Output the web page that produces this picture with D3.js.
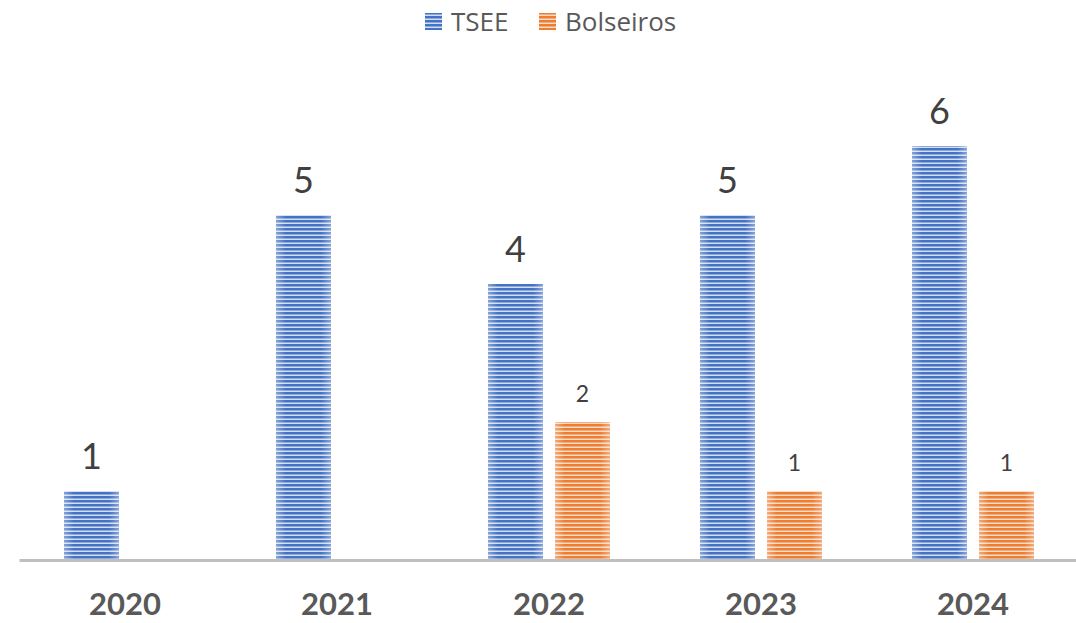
<!DOCTYPE html>
<html lang="pt">
<head>
<meta charset="UTF-8">
<title>TSEE e Bolseiros</title>
<script src="https://d3js.org/d3.v7.min.js"></script>
<style>
  body { margin: 0; background: #fff; }
</style>
</head>
<body>
<script>
// data
var years = ["2020", "2021", "2022", "2023", "2024"];
var seriesNames = ["TSEE", "Bolseiros"];
var tsee = [1, 5, 4, 5, 6];
var bolseiros = [null, null, 2, 1, 1];

var w = 1076, h = 623;
var baseY = 560;

var svg = d3.select("body").append("svg")
    .attr("width", w)
    .attr("height", h)
    .style("font-family", "Lato, 'Open Sans', sans-serif");

var defs = svg.append("defs");
var colors = { TSEE: ["#4472C4", "#D3DEF2"], Bolseiros: ["#ED7D31", "#FADBC6"] };

seriesNames.forEach(function (s) {
    var p = defs.append("pattern")
        .attr("id", "pat-" + s)
        .attr("patternUnits", "userSpaceOnUse")
        .attr("width", 8).attr("height", 4);
    p.append("rect").attr("width", 8).attr("height", 4).attr("fill", colors[s][1]);
    p.append("rect").attr("width", 8).attr("height", 2.5).attr("fill", colors[s][0]);
});

// soft lighter edges on the bars
var grad = defs.append("linearGradient").attr("id", "edge")
    .attr("x1", "0").attr("x2", "1").attr("y1", "0").attr("y2", "0");
grad.append("stop").attr("offset", "0").attr("stop-color", "#fff").attr("stop-opacity", 0.35);
grad.append("stop").attr("offset", "0.18").attr("stop-color", "#fff").attr("stop-opacity", 0);
grad.append("stop").attr("offset", "0.82").attr("stop-color", "#fff").attr("stop-opacity", 0);
grad.append("stop").attr("offset", "1").attr("stop-color", "#fff").attr("stop-opacity", 0.35);

var x = d3.scaleBand()
    .domain(years)
    .range([19, 1079]);

var x1 = d3.scaleBand()
    .domain(seriesNames)
    .range([0, 122])
    .paddingInner(0.18);

var y = d3.scaleLinear()
    .domain([0, 6])
    .range([baseY, baseY - 414]);

var rows = [];
years.forEach(function (yr, i) {
    rows.push({ year: yr, s: "TSEE", v: tsee[i] });
    if (bolseiros[i] != null) rows.push({ year: yr, s: "Bolseiros", v: bolseiros[i] });
});

function bx(d) {
    return x(d.year) + x.bandwidth() / 2 - 61 + x1(d.s);
}

var bars = svg.append("g");
bars.selectAll("rect.bar")
    .data(rows)
    .enter()
    .append("rect")
    .attr("class", "bar")
    .attr("x", bx)
    .attr("y", function (d) { return y(d.v); })
    .attr("width", x1.bandwidth())
    .attr("height", function (d) { return baseY - y(d.v); })
    .attr("fill", function (d) { return "url(#pat-" + d.s + ")"; });

bars.selectAll("rect.edge")
    .data(rows)
    .enter()
    .append("rect")
    .attr("class", "edge")
    .attr("x", bx)
    .attr("y", function (d) { return y(d.v); })
    .attr("width", x1.bandwidth())
    .attr("height", function (d) { return baseY - y(d.v); })
    .attr("fill", "url(#edge)");

// value labels
svg.append("g").selectAll("text")
    .data(rows)
    .enter()
    .append("text")
    .attr("x", function (d) { return bx(d) + x1.bandwidth() / 2; })
    .attr("y", function (d) { return y(d.v) - (d.s == "TSEE" ? 22 : 20); })
    .attr("text-anchor", "middle")
    .attr("fill", "#404040")
    .style("font-size", function (d) { return d.s == "TSEE" ? "36px" : "23px"; })
    .text(function (d) { return d.v; });

// x axis
var xAxis = svg.append("g")
    .attr("transform", "translate(0," + baseY + ")")
    .call(d3.axisBottom(x).tickSize(0).tickPadding(33));
xAxis.select(".domain").attr("stroke", "#BFBFBF").attr("stroke-width", 3);
xAxis.selectAll("text")
    .style("font-family", "Lato, 'Open Sans', sans-serif")
    .style("font-size", "31px")
    .style("font-weight", "bold")
    .attr("fill", "#595959");

// legend
var legendX = [425, 539];
var legend = svg.append("g");
seriesNames.forEach(function (s, i) {
    legend.append("rect")
        .attr("x", legendX[i]).attr("y", 13)
        .attr("width", 17).attr("height", 17)
        .attr("fill", "url(#pat-" + s + ")");
    legend.append("text")
        .attr("x", legendX[i] + 26).attr("y", 31)
        .attr("fill", "#595959")
        .style("font-family", "'Open Sans', sans-serif")
        .style("font-size", "26px")
        .text(s);
});
</script>
</body>
</html>
